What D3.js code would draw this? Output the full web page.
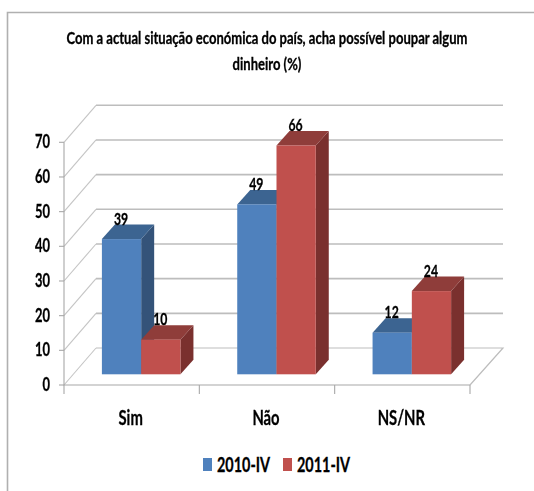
<!DOCTYPE html>
<html><head><meta charset="utf-8">
<script src="https://cdn.jsdelivr.net/npm/d3@7"></script>
<style>html,body{margin:0;padding:0;background:#fff}svg{display:block}
text{font-family:Lato,"Liberation Sans",sans-serif;font-weight:bold;fill:#000;stroke:#000;stroke-width:0.3px}
.soft{filter:url(#soft)}</style>
</head><body><svg id="c" width="534" height="491"><defs><filter id="soft" filterUnits="userSpaceOnUse" x="0" y="0" width="534" height="491"><feGaussianBlur stdDeviation="0.3"/></filter></defs></svg>
<script>
const titleLines=["Com a actual situação económica do país, acha possível poupar algum","dinheiro (%)"];
const categories=["Sim","Não","NS/NR"];
const seriesNames=["2010-IV","2011-IV"];
const series2010=[39,49,12];
const series2011=[10,66,24];
const yTicks=[0,10,20,30,40,50,60,70];
const colors=[{front:"#4f81bd",top:"#3c6491",side:"#345379"},{front:"#c0504d",top:"#8f3d3a",side:"#7a302e"}];

const svg=d3.select("#c");
const squeeze=(sel,k)=>sel.each(function(){
  const t=d3.select(this);
  t.attr("textLength",this.getComputedTextLength()*k).attr("lengthAdjust","spacingAndGlyphs");
});
const wallDx=32,wallDy=-37,floorDx=9.5,floorDy=-10.7,depthDx=13,depthDy=-14.5;
const x=d3.scaleBand().domain(categories).range([64,470]).paddingInner(0);
const y=d3.scaleLinear().domain([0,70]).range([385,142.3]);
const barPad=28.4, barW=(x.bandwidth()-2*barPad)/2;
const unit=y(0)-y(1);

svg.append("path").attr("d","M7.5,491V12.5H534").attr("fill","none").attr("stroke","#b0b0b0").attr("stroke-width",1.6);

const title=svg.append("g").attr("class","soft").attr("text-anchor","middle").style("font-size","16.5px");
title.selectAll("text").data(titleLines).join("text")
 .attr("transform",(d,i)=>`translate(267,${44+i*26}) scale(0.79,1)`).text(d=>d);

const grid=svg.append("g").attr("fill","none");
grid.selectAll("path.back").data(yTicks.filter(d=>d>0)).join("path").attr("class","back")
 .attr("d",d=>`M${64+wallDx},${y(d)+wallDy}H503`).attr("stroke","#bdbdbd").attr("stroke-width",1.6);
grid.selectAll("path.diag").data(yTicks).join("path").attr("class","diag")
 .attr("d",d=>`M${64},${y(d)}L${64+wallDx},${y(d)+wallDy}`).attr("stroke","#c4c4c4").attr("stroke-width",1.1);
grid.append("path").attr("d",`M${64+wallDx},${y(0)+wallDy}H503L470,${y(0)}`).attr("stroke","#bdbdbd").attr("stroke-width",1.2);

const ax=svg.append("g").attr("fill","none").attr("stroke","#a8a8a8").attr("stroke-width",1.1);
ax.append("path").attr("d",`M64,${y(70)}V${y(0)}H470`);
ax.selectAll("path.yt").data(yTicks).join("path").attr("class","yt").attr("d",d=>`M59,${y(d)}H64`);
ax.selectAll("path.xt").data([...categories.map(c=>x(c)),470]).join("path").attr("class","xt").attr("d",d=>`M${d},${y(0)}v9`);

svg.append("g").attr("class","soft").attr("text-anchor","end").style("font-size","18px").selectAll("text").data(yTicks).join("text")
 .attr("x",50).attr("y",d=>y(d)+6).text(d=>d).call(squeeze,0.72);
svg.append("g").attr("class","soft").attr("text-anchor","middle").style("font-size","20px").selectAll("text").data(categories).join("text")
 .attr("x",d=>x(d)+x.bandwidth()/2-1).attr("y",425).text(d=>d).call(squeeze,0.74);

const barsData=categories.flatMap((c,i)=>[series2010[i],series2011[i]].map((v,s)=>({c,v,s})));
const bars=svg.append("g").selectAll("g").data(barsData).join("g");
const bx=d=>x(d.c)+floorDx+barPad+d.s*barW;
const base=y(0)+floorDy;
const topY=d=>base-d.v*unit;
bars.append("path").attr("fill",d=>colors[d.s].side)
 .attr("d",d=>`M${bx(d)+barW},${base}V${topY(d)}l${depthDx},${depthDy}V${base+depthDy}Z`);
bars.append("path").attr("fill",d=>colors[d.s].top)
 .attr("d",d=>`M${bx(d)},${topY(d)}h${barW}l${depthDx},${depthDy}h${-barW}Z`);
bars.append("rect").attr("fill",d=>colors[d.s].front)
 .attr("x",bx).attr("y",topY).attr("width",barW).attr("height",d=>d.v*unit);
svg.append("g").attr("class","soft").attr("text-anchor","middle").style("font-size","17px").selectAll("text").data(barsData).join("text")
 .attr("x",d=>bx(d)+barW/2-0.5).attr("y",d=>topY(d)+depthDy).text(d=>d.v).call(squeeze,0.72);

const lg=svg.append("g").selectAll("g").data(seriesNames).join("g").attr("transform",(d,i)=>`translate(${203+i*80},0)`);
lg.append("rect").attr("y",458).attr("width",9).attr("height",13).attr("fill",(d,i)=>colors[i].front);
lg.append("text").attr("x",14).attr("y",472).style("font-size","20px").text(d=>d).call(squeeze,0.72);
</script></body></html>
